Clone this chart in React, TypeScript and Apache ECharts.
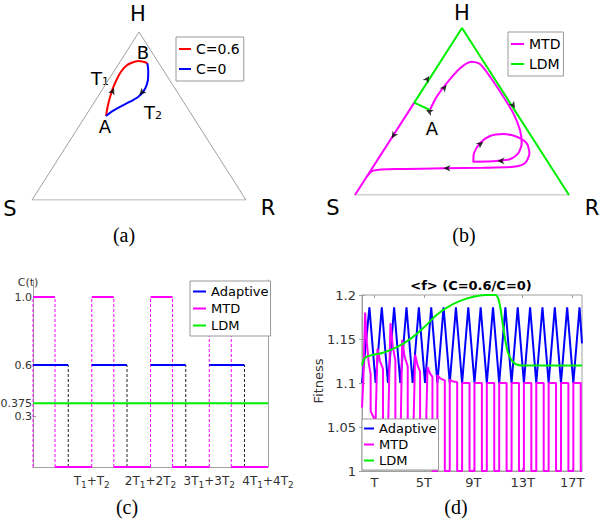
import { useEffect, useRef } from 'react';
import * as echarts from 'echarts';

const FONT = 'DejaVu Sans';
const SERIF = 'Liberation Serif';

// ---------- panel (a): simplex coordinates, S=(0,0), R=(1,0), H=(0.5,1) ----------
const triangleEdges = [[0, 0], [1, 0], [0.5, 1], [0, 0]];
const aTrajC06 = [[0.346, 0.5], [0.352, 0.546], [0.361, 0.595], [0.375, 0.655], [0.393, 0.71], [0.414, 0.76], [0.439, 0.798], [0.466, 0.817], [0.497, 0.827], [0.52, 0.823], [0.539, 0.814]];
const aTrajC0 = [[0.539, 0.814], [0.543, 0.774], [0.543, 0.734], [0.536, 0.685], [0.52, 0.645], [0.497, 0.615], [0.458, 0.585], [0.411, 0.555], [0.372, 0.526], [0.346, 0.5]];
// u, v, direction of travel (deg)
const aArrows = [[0.383, 0.668, 68], [0.501, 0.625, -135]];

// ---------- panel (b) ----------
const bMTD = [[0.35, 0.509], [0.382, 0.589], [0.428, 0.669], [0.491, 0.759], [0.545, 0.798], [0.584, 0.784], [0.631, 0.708], [0.693, 0.589], [0.74, 0.489], [0.771, 0.389], [0.779, 0.31], [0.763, 0.25], [0.724, 0.214], [0.662, 0.204], [0.553, 0.199], [0.556, 0.25], [0.584, 0.31], [0.631, 0.353], [0.693, 0.365], [0.756, 0.349], [0.802, 0.31], [0.815, 0.25], [0.794, 0.19], [0.74, 0.169], [0.6, 0.163], [0.413, 0.16], [0.21, 0.156], [0.086, 0.146], [0.055, 0.11]];
const bMTDEdge = [[0.277, 0.553], [0, 0]];
const bLDM = [[0.35, 0.509], [0.277, 0.553], [0.5, 1], [1, 0]];
const bArrows = [[0.347, 0.713, 57], [0.748, 0.519, -57], [0.332, 0.509, 155], [0.171, 0.339, -123], [0.428, 0.659, 51], [0.6, 0.319, 36], [0.665, 0.204, 180], [0.413, 0.16, 180]];

// ---------- panel (c): C(t) ----------
const cMtdOn = [[0, 0.375], [1, 1.375], [2, 2.375], [3, 3.375]];
const cMtdOff = [[0.375, 1], [1.375, 2], [2.375, 3], [3.375, 4]];
const cAdaptiveOn = [[0, 0.6], [1, 1.6], [2, 2.6], [3, 3.6]];
const cMtdSwitch = [0, 0.375, 1, 1.375, 2, 2.375, 3, 3.375];
const cAdaptiveSwitch = [0.6, 1.6, 2.6, 3.6];
const cMtdDose = 1.0;
const cAdaptiveDose = 0.6;
const cLdmDose = 0.375;
const cYTicks = [0.3, 0.375, 0.6, 1.0];
const cXTicks = [1, 2, 3, 4];

// ---------- panel (d): fitness ----------
const dAdaptive = [[0, 1.1], [0.6, 1.186], [1.1, 1.1], [1.6, 1.186], [2.1, 1.1], [2.6, 1.186], [3.1, 1.1], [3.6, 1.186], [4.1, 1.1], [4.6, 1.186], [5.1, 1.1], [5.6, 1.186], [6.1, 1.1], [6.6, 1.186], [7.1, 1.1], [7.6, 1.186], [8.1, 1.1], [8.6, 1.186], [9.1, 1.1], [9.6, 1.186], [10.1, 1.1], [10.6, 1.186], [11.1, 1.1], [11.6, 1.186], [12.1, 1.1], [12.6, 1.186], [13.1, 1.1], [13.6, 1.186], [14.1, 1.1], [14.6, 1.186], [15.1, 1.1], [15.6, 1.186], [16.1, 1.1], [16.6, 1.186], [17.1, 1.1], [17.6, 1.186], [17.8, 1.145]];
const dMTD = [
  [0, 1.072], [0.1, 1.1], [0.25, 1.18], [0.4, 1.145], [0.55, 1.122], [0.7, 1.11],
  [0.7, 1.068], [0.9, 1.062], [1.1, 1.056],
  [1.25, 1.139], [1.45, 1.125], [1.7, 1.116],
  [1.7, 1.05], [1.9, 1.045], [2.1, 1.04],
  [2.3, 1.168], [2.5, 1.14], [2.7, 1.126],
  [2.7, 1.03], [3.1, 1.022],
  [3.25, 1.149], [3.45, 1.13], [3.7, 1.119],
  [3.7, 1.015], [4.1, 1.01],
  [4.3, 1.132], [4.5, 1.12], [4.7, 1.113],
  [4.7, 1.006], [5.1, 1.003],
  [5.3, 1.118], [5.5, 1.111], [5.7, 1.107],
  [5.7, 1.0], [6.1, 1.0],
  [6.1, 1.109], [6.35, 1.105], [6.7, 1.103],
  [6.7, 1.0], [7.1, 1.0],
  [7.1, 1.104], [7.3, 1.102], [7.7, 1.101],
  [7.7, 1.0], [8.1, 1.0], [8.1, 1.1], [8.7, 1.1],
  [8.7, 1.0], [9.1, 1.0], [9.1, 1.1], [9.7, 1.1],
  [9.7, 1.0], [10.1, 1.0], [10.1, 1.1], [10.7, 1.1],
  [10.7, 1.0], [11.1, 1.0], [11.1, 1.1], [11.7, 1.1],
  [11.7, 1.0], [12.1, 1.0], [12.1, 1.1], [12.7, 1.1],
  [12.7, 1.0], [13.1, 1.0], [13.1, 1.1], [13.7, 1.1],
  [13.7, 1.0], [14.1, 1.0], [14.1, 1.1], [14.7, 1.1],
  [14.7, 1.0], [15.1, 1.0], [15.1, 1.1], [15.7, 1.1],
  [15.7, 1.0], [16.1, 1.0], [16.1, 1.1], [16.7, 1.1],
  [16.7, 1.0], [17.1, 1.0], [17.1, 1.1], [17.7, 1.1],
  [17.7, 1.0], [17.8, 1.0],
];
const dLDM = [[0, 1.12], [0.2, 1.128], [0.6, 1.131], [1.7, 1.1344], [2.9, 1.1413], [4.0, 1.151], [5.0, 1.163], [6.0, 1.177], [6.9, 1.186], [7.9, 1.193], [9.0, 1.198], [10.0, 1.2], [10.8, 1.2], [11.0, 1.197], [11.2, 1.185], [11.4, 1.166], [11.6, 1.148], [11.8, 1.135], [12.1, 1.126], [12.5, 1.121], [13.0, 1.12], [17.8, 1.12]];
const dXTicks = [1, 5, 9, 13, 17];

const RED = '#ff0000';
const BLUE = '#0000ff';
const MAG = '#ff00ff';
const GREEN = '#00ee00';
const GRAY = '#a0a0a0';

function segments(intervals: number[][], level: number) {
  const out: any[] = [];
  intervals.forEach(([a, b]) => { out.push([a, level], [b, level], [b, '-']); });
  return out;
}
function verticals(xs: number[], top: number) {
  const out: any[] = [];
  xs.forEach((x) => { out.push([x, 0], [x, top], [x, '-']); });
  return out;
}
function arrowData(arr: number[][]) {
  return arr.map(([u, v, dir]) => ({ value: [u, v], symbolRotate: dir - 90 }));
}

function buildOption() {
  const hidden = (g: number) => ({ gridIndex: g, type: 'value', min: 0, max: 1, show: false });
  const legendBase = {
    orient: 'vertical',
    backgroundColor: '#fff',
    borderColor: '#999',
    borderWidth: 1,
    borderRadius: 0,
    selectedMode: false,
    icon: 'rect',
    itemHeight: 2,
    textStyle: { fontFamily: FONT, color: '#000' },
  };
  const txt = (text: string, x: number, y: number, size: number, extra: any = {}) => ({
    type: 'text', x, y, silent: true,
    style: { text, fontSize: size, fontFamily: FONT, fill: '#000', align: 'center', verticalAlign: 'middle', ...extra },
  });
  const sub = { s: { fontSize: 11, lineHeight: 12, verticalAlign: 'bottom', fontFamily: FONT } };

  return {
    animation: false,
    textStyle: { fontFamily: FONT },
    grid: [
      { left: 32, top: 32, width: 214, height: 168, outerBoundsMode: 'none' },
      { left: 355, top: 28, width: 214, height: 167, outerBoundsMode: 'none' },
      { left: 33, top: 280, width: 235, height: 187, outerBoundsMode: 'none' },
      { left: 362, top: 295, width: 220, height: 176, outerBoundsMode: 'none', show: true, borderColor: GRAY, borderWidth: 1, backgroundColor: 'transparent' },
    ],
    xAxis: [
      hidden(0),
      hidden(1),
      {
        gridIndex: 2, type: 'value', min: 0, max: 4,
        axisLine: { show: true, onZero: false, lineStyle: { color: GRAY } },
        axisTick: { show: false },
        splitLine: { show: false },
        axisLabel: {
          customValues: cXTicks, color: '#333', fontSize: 12, lineHeight: 16, margin: 6,
          formatter: (v: number) => { const p = v === 1 ? '' : String(v); return `${p}T{s|1}+${p}T{s|2}`; },
          rich: { s: { fontSize: 9, lineHeight: 10, verticalAlign: 'bottom', color: '#333' } },
        },
      },
      {
        gridIndex: 3, type: 'value', min: 0, max: 17.8,
        axisLine: { show: true, onZero: false, lineStyle: { color: GRAY } },
        axisTick: { show: true, inside: true, length: 3, customValues: dXTicks, lineStyle: { color: GRAY } },
        splitLine: { show: false },
        axisLabel: { customValues: dXTicks, color: '#333', fontSize: 13, margin: 5, formatter: (v: number) => (v === 1 ? 'T' : `${v}T`) },
      },
      {
        gridIndex: 3, type: 'value', min: 0, max: 17.8, position: 'top',
        axisLine: { show: false },
        axisTick: { show: true, inside: true, length: 3, customValues: dXTicks, lineStyle: { color: GRAY } },
        splitLine: { show: false },
        axisLabel: { show: false },
      },
    ],
    yAxis: [
      hidden(0),
      hidden(1),
      {
        gridIndex: 2, type: 'value', min: 0, max: 1.1,
        axisLine: { show: true, onZero: false, lineStyle: { color: GRAY } },
        axisTick: { show: true, inside: true, length: 3, customValues: cYTicks, lineStyle: { color: GRAY } },
        splitLine: { show: false },
        axisLabel: { customValues: cYTicks, color: '#333', fontSize: 11, margin: 1, formatter: (v: number) => (v === 1 ? '1.0' : String(v)) },
      },
      {
        gridIndex: 2, type: 'value', min: 0, max: 1.1, position: 'right',
        axisLine: { show: true, onZero: false, lineStyle: { color: GRAY } },
        axisTick: { show: false }, axisLabel: { show: false }, splitLine: { show: false },
      },
      {
        gridIndex: 3, type: 'value', min: 1, max: 1.2, interval: 0.05,
        axisLine: { show: true, onZero: false, lineStyle: { color: GRAY } },
        axisTick: { show: true, inside: true, length: 3, lineStyle: { color: GRAY } },
        splitLine: { show: false },
        axisLabel: { color: '#333', fontSize: 13, margin: 6 },
      },
      {
        gridIndex: 3, type: 'value', min: 1, max: 1.2, interval: 0.05, position: 'right',
        axisLine: { show: false },
        axisTick: { show: true, inside: true, length: 3, lineStyle: { color: GRAY } },
        splitLine: { show: false }, axisLabel: { show: false },
      },
    ],
    legend: [
      { ...legendBase, left: 176, top: 37, data: ['C=0.6', 'C=0'], itemWidth: 12, itemGap: 6, padding: [5, 4, 5, 3], textStyle: { ...legendBase.textStyle, fontSize: 14 } },
      { ...legendBase, left: 508, top: 32, data: ['MTD', 'LDM'], itemWidth: 13, itemGap: 6, padding: [5, 3, 5, 3], textStyle: { ...legendBase.textStyle, fontSize: 14 } },
      { ...legendBase, left: 190, top: 281, data: ['Adaptive', 'MTD', 'LDM'], itemWidth: 13, itemGap: 4, padding: [4, 2, 4, 3], textStyle: { ...legendBase.textStyle, fontSize: 13 } },
      { ...legendBase, left: 362, top: 419, data: ['Adaptive', 'MTD', 'LDM'], itemWidth: 10, itemGap: 3, padding: [3, 2, 3, 2], textStyle: { ...legendBase.textStyle, fontSize: 13 } },
    ],
    series: [
      // (a)
      { type: 'line', name: 'triangle-a', xAxisIndex: 0, yAxisIndex: 0, data: triangleEdges, symbol: 'none', silent: true, lineStyle: { color: GRAY, width: 1 } },
      { type: 'line', name: 'C=0.6', xAxisIndex: 0, yAxisIndex: 0, data: aTrajC06, symbol: 'none', smooth: 0.3, color: RED, itemStyle: { color: RED }, lineStyle: { color: RED, width: 2 } },
      { type: 'line', name: 'C=0', xAxisIndex: 0, yAxisIndex: 0, data: aTrajC0, symbol: 'none', smooth: 0.3, color: BLUE, itemStyle: { color: BLUE }, lineStyle: { color: BLUE, width: 2 } },
      { type: 'scatter', name: 'arrows-a', xAxisIndex: 0, yAxisIndex: 0, data: arrowData(aArrows), symbol: 'arrow', symbolSize: [5, 7], itemStyle: { color: '#000' }, z: 5 },
      // (b)
      { type: 'line', name: 'triangle-b', xAxisIndex: 1, yAxisIndex: 1, data: triangleEdges, symbol: 'none', silent: true, lineStyle: { color: GRAY, width: 1 } },
      { type: 'line', name: 'MTD', xAxisIndex: 1, yAxisIndex: 1, data: bMTD, symbol: 'none', smooth: 0.25, color: MAG, itemStyle: { color: MAG }, lineStyle: { color: MAG, width: 2 } },
      { type: 'line', name: 'MTD', xAxisIndex: 1, yAxisIndex: 1, data: bMTDEdge, symbol: 'none', color: MAG, itemStyle: { color: MAG }, lineStyle: { color: MAG, width: 2 } },
      { type: 'line', name: 'LDM', xAxisIndex: 1, yAxisIndex: 1, data: bLDM, symbol: 'none', color: GREEN, itemStyle: { color: GREEN }, lineStyle: { color: GREEN, width: 2 } },
      { type: 'scatter', name: 'arrows-b', xAxisIndex: 1, yAxisIndex: 1, data: arrowData(bArrows), symbol: 'arrow', symbolSize: [5, 7], itemStyle: { color: '#000' }, z: 5 },
      // (c)
      { type: 'line', name: 'MTD switch', xAxisIndex: 2, yAxisIndex: 2, data: verticals(cMtdSwitch, cMtdDose), symbol: 'none', clip: false, color: MAG, lineStyle: { color: MAG, width: 1, type: [3, 2] } },
      { type: 'line', name: 'Adaptive switch', xAxisIndex: 2, yAxisIndex: 2, data: verticals(cAdaptiveSwitch, cAdaptiveDose), symbol: 'none', clip: false, color: '#222', lineStyle: { color: '#222', width: 1, type: [3, 2] } },
      { type: 'line', name: 'Adaptive', xAxisIndex: 2, yAxisIndex: 2, data: segments(cAdaptiveOn, cAdaptiveDose), symbol: 'none', clip: false, color: BLUE, itemStyle: { color: BLUE }, lineStyle: { color: BLUE, width: 2 } },
      { type: 'line', name: 'MTD', xAxisIndex: 2, yAxisIndex: 2, data: [...segments(cMtdOn, cMtdDose), ...segments(cMtdOff, 0)], symbol: 'none', clip: false, color: MAG, lineStyle: { color: MAG, width: 2 } },
      { type: 'line', name: 'LDM', xAxisIndex: 2, yAxisIndex: 2, data: [[0, cLdmDose], [4, cLdmDose]], symbol: 'none', clip: false, color: GREEN, lineStyle: { color: GREEN, width: 2 } },
      // (d)
      { type: 'line', name: 'Adaptive', xAxisIndex: 3, yAxisIndex: 4, data: dAdaptive, symbol: 'none', clip: false, color: BLUE, lineStyle: { color: BLUE, width: 2 } },
      { type: 'line', name: 'MTD', xAxisIndex: 3, yAxisIndex: 4, data: dMTD, symbol: 'none', clip: false, color: MAG, lineStyle: { color: MAG, width: 2 } },
      { type: 'line', name: 'LDM', xAxisIndex: 3, yAxisIndex: 4, data: dLDM, symbol: 'none', smooth: 0.2, clip: false, color: GREEN, lineStyle: { color: GREEN, width: 2 } },
    ],
    graphic: [
      txt('H', 138, 14, 21), txt('S', 10, 209, 21), txt('R', 268, 208, 21),
      txt('B', 143, 52, 18), txt('A', 105, 126, 18),
      txt('T{s|1}', 100, 78, 18, { rich: sub }), txt('T{s|2}', 153, 112, 18, { rich: sub }),
      txt('(a)', 124, 235, 20, { fontFamily: SERIF }),
      txt('H', 462, 13, 21), txt('S', 333, 208, 21), txt('R', 592, 208, 21),
      txt('A', 432, 128, 18),
      txt('(b)', 464, 235, 20, { fontFamily: SERIF }),
      txt('C(t)', 28, 282, 11, { fill: '#333' }),
      txt('(c)', 127, 507, 20, { fontFamily: SERIF }),
      txt('<f> (C=0.6/C=0)', 471, 285, 13, { fontWeight: 'bold' }),
      { type: 'text', x: 318, y: 381, rotation: Math.PI / 2, silent: true, style: { text: 'Fitness', fontSize: 13, fontFamily: FONT, fill: '#333', align: 'center', verticalAlign: 'middle' } },
      txt('(d)', 456, 507, 20, { fontFamily: SERIF }),
    ],
  };
}

export default function App() {
  const ref = useRef<HTMLDivElement>(null);
  useEffect(() => {
    document.body.style.margin = '0';
    const chart = echarts.init(ref.current as HTMLDivElement, undefined, { renderer: 'svg' });
    chart.setOption(buildOption() as any);
    return () => chart.dispose();
  }, []);
  return <div ref={ref} style={{ width: 600, height: 521, background: '#fff' }} />;
}
